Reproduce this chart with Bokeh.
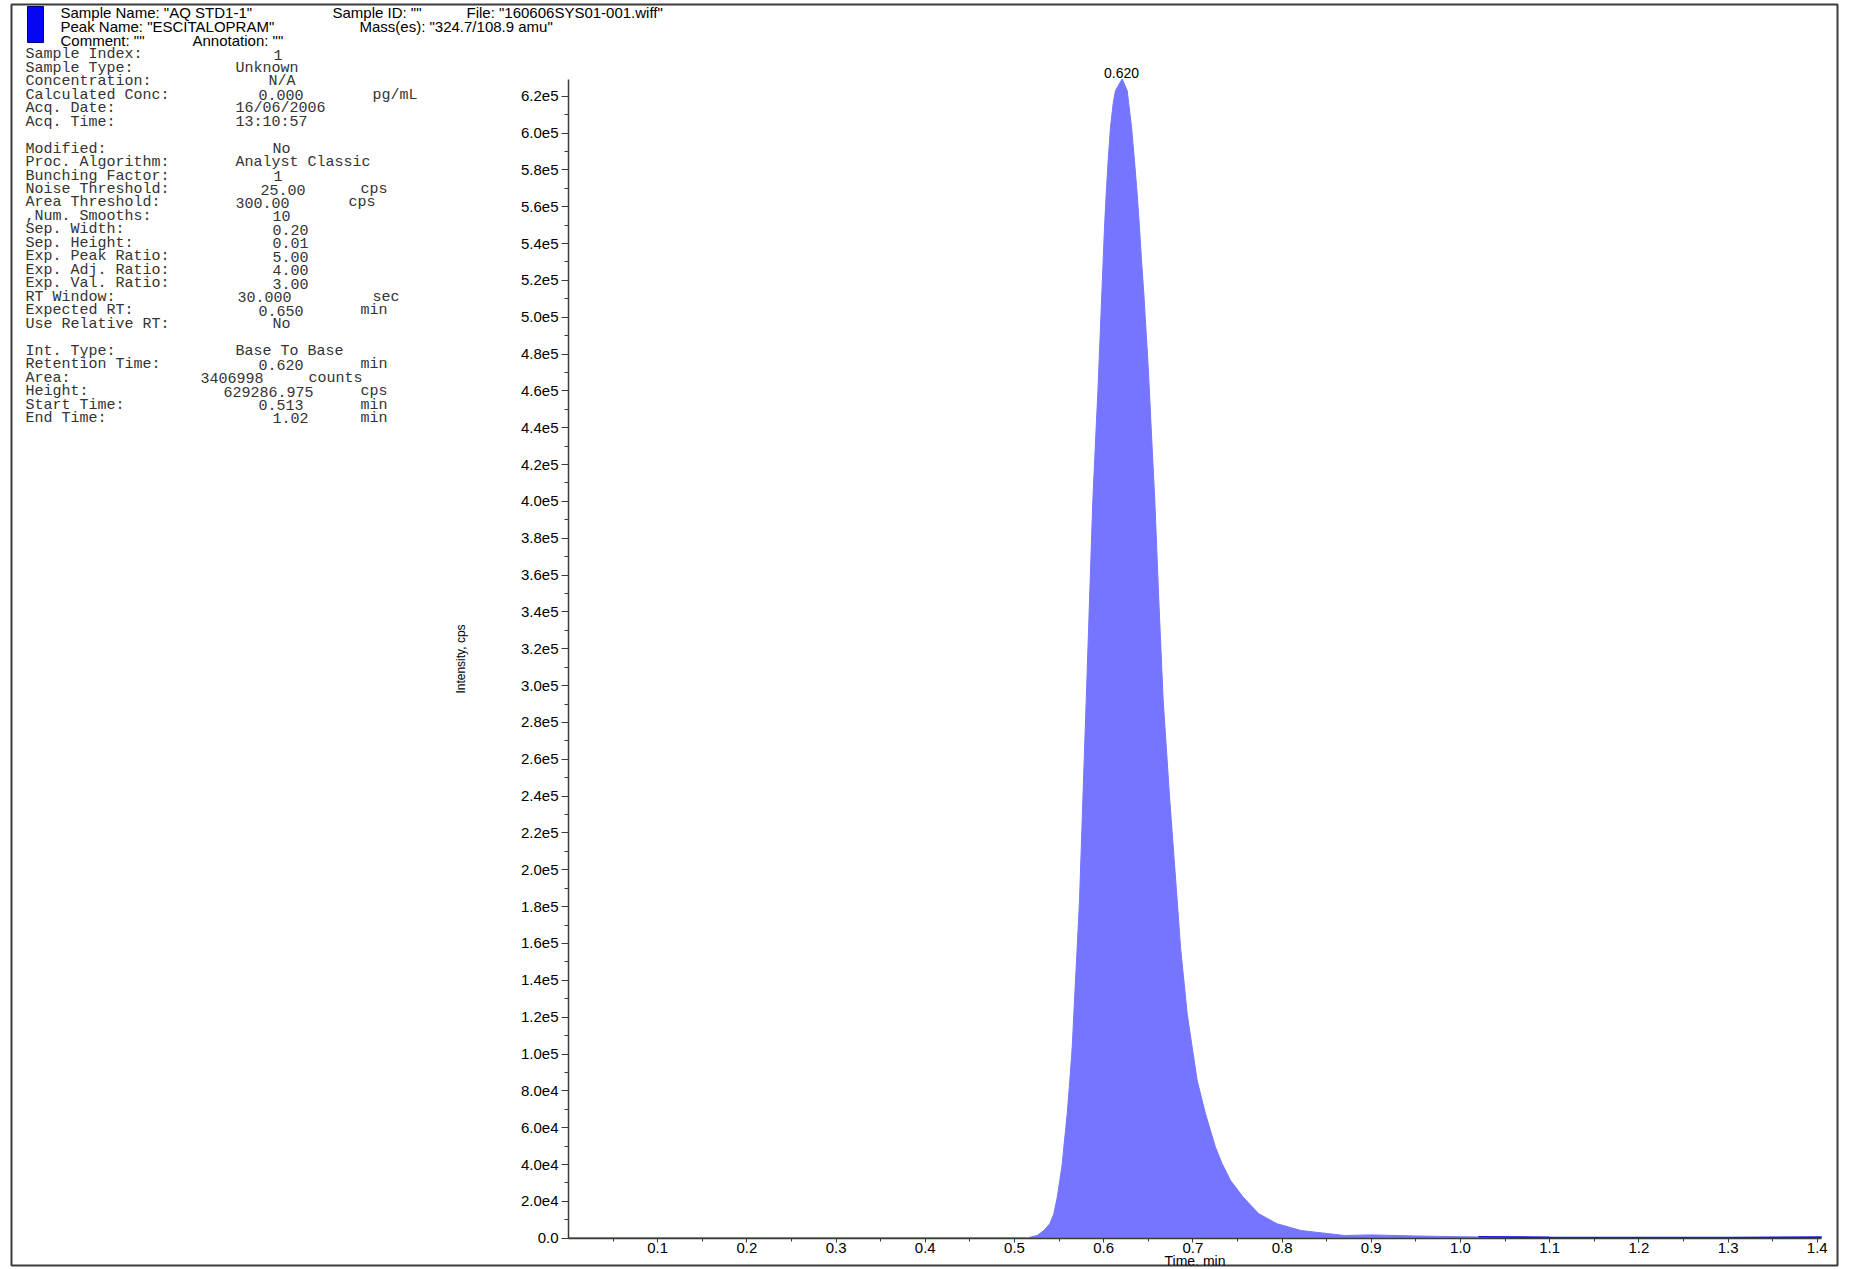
import numpy as np
from bokeh.plotting import figure
from bokeh.models import LinearAxis, FixedTicker, Range1d, ColumnDataSource
from bokeh.core.properties import value
from bokeh.embed import file_html
from bokeh.resources import INLINE

# ---------------- data ----------------
time_min = [0.0, 0.1, 0.2, 0.3, 0.4, 0.5, 0.513,
            0.5254, 0.5329, 0.5396, 0.5441, 0.5479, 0.5508, 0.5535, 0.5553, 0.5591, 0.5620,
            0.5647, 0.5665, 0.5703, 0.5729, 0.5766, 0.5804, 0.5841, 0.5878, 0.5919, 0.5934,
            0.5949, 0.5964, 0.5979, 0.5994, 0.6009, 0.6028, 0.6050, 0.6076, 0.6106, 0.6132,
            0.6207,
            0.6263, 0.6281, 0.6312, 0.6345, 0.6375, 0.6401, 0.6424, 0.6450, 0.6472, 0.6495,
            0.6514, 0.6528, 0.6573, 0.6618, 0.6667, 0.6741, 0.6824, 0.6861, 0.6936, 0.6992,
            0.7048, 0.7141, 0.7253, 0.7328, 0.7422, 0.7564, 0.7739, 0.7945, 0.8211, 0.8700,
            0.900, 0.950, 1.000, 1.020, 1.100, 1.200, 1.300, 1.405]
intensity_cps = [0, 0, 0, 0, 0, 0, 0,
                 1470, 4180, 7820, 13250, 22260, 31320, 40390, 49400, 67540, 85610,
                 103690, 121820, 157980, 183330, 237620, 291910, 346200, 400490, 443920, 458420,
                 476490, 494570, 512700, 530780, 548860, 566990, 585070, 603150, 615850, 623070,
                 629287,
                 623070, 615850, 603150, 585070, 566990, 548860, 530780, 512700, 494570, 476490,
                 458420, 443920, 400490, 346200, 291910, 237620, 183330, 157980, 121820, 103690,
                 85610, 67540, 49400, 40390, 31320, 22260, 13250, 7820, 4180, 1470,
                 1800, 1200, 800, 700, 500, 400, 400, 600]
assert len(time_min) == len(intensity_cps)

peak_rt = 0.620
peak_height = 629286.975
start_time = 0.513
end_time = 1.02
time_end = 1.405

x_tick_values = [0.1, 0.2, 0.3, 0.4, 0.5, 0.6, 0.7, 0.8, 0.9, 1.0, 1.1, 1.2, 1.3, 1.4]
x_tick_labels = ["0.1", "0.2", "0.3", "0.4", "0.5", "0.6", "0.7", "0.8", "0.9", "1.0",
                 "1.1", "1.2", "1.3", "1.4"]
x_minor_ticks = [0.05, 0.15, 0.25, 0.35, 0.45, 0.55, 0.65, 0.75, 0.85, 0.95, 1.05, 1.15,
                 1.25, 1.35]
y_tick_values = [0, 20000, 40000, 60000, 80000, 100000, 120000, 140000, 160000, 180000,
                 200000, 220000, 240000, 260000, 280000, 300000, 320000, 340000, 360000,
                 380000, 400000, 420000, 440000, 460000, 480000, 500000, 520000, 540000,
                 560000, 580000, 600000, 620000]
y_tick_labels = ["0.0", "2.0e4", "4.0e4", "6.0e4", "8.0e4", "1.0e5", "1.2e5", "1.4e5",
                 "1.6e5", "1.8e5", "2.0e5", "2.2e5", "2.4e5", "2.6e5", "2.8e5", "3.0e5",
                 "3.2e5", "3.4e5", "3.6e5", "3.8e5", "4.0e5", "4.2e5", "4.4e5", "4.6e5",
                 "4.8e5", "5.0e5", "5.2e5", "5.4e5", "5.6e5", "5.8e5", "6.0e5", "6.2e5"]
y_minor_ticks = [10000 + 20000 * i for i in range(31)]

header_texts = ['Sample Name: "AQ STD1-1"', 'Sample ID: ""', 'File: "160606SYS01-001.wiff"',
                'Peak Name: "ESCITALOPRAM"', 'Mass(es): "324.7/108.9 amu"',
                'Comment: ""', 'Annotation: ""']

info_labels = ["Sample Index:", "Sample Type:", "Concentration:", "Calculated Conc:",
               "Acq. Date:", "Acq. Time:", "", "Modified:", "Proc. Algorithm:",
               "Bunching Factor:", "Noise Threshold:", "Area Threshold:", ",Num. Smooths:",
               "Sep. Width:", "Sep. Height:", "Exp. Peak Ratio:", "Exp. Adj. Ratio:",
               "Exp. Val. Ratio:", "RT Window:", "Expected RT:", "Use Relative RT:", "",
               "Int. Type:", "Retention Time:", "Area:", "Height:", "Start Time:", "End Time:"]
info_values = ["1", "Unknown", "N/A", "0.000", "16/06/2006", "13:10:57", "", "No",
               "Analyst Classic", "1", "25.00", "300.00", "10", "0.20", "0.01", "5.00", "4.00",
               "3.00", "30.000", "0.650", "No", "", "Base To Base", "0.620", "3406998",
               "629286.975", "0.513", "1.02"]
info_units = ["", "", "", "pg/mL", "", "", "", "", "", "", "cps", "cps", "", "", "", "", "",
              "", "sec", "min", "", "", "", "min", "counts", "cps", "min", "min"]

# ---------------- layout (page pixels) ----------------
W, H = 1851, 1269
FL, FR, FT, FB = 11, 1837, 4, 1265
X0_PX, PX_PER_MIN = 568.0, 892.0
Y0_PX, PX_PER_CPS = 1237.7, 36.84 / 20000.0


def px2x(px):
    return (px - X0_PX) / PX_PER_MIN


def py2y(py):
    return (Y0_PX - py) / PX_PER_CPS


header_pos = [(60, 12), (332, 12), (466, 12), (60, 26), (359, 26), (60, 40), (192, 40)]
value_px = [273, 235, 268, 258, 235, 235, 0, 272, 235, 273, 260, 235, 272, 272, 272, 272,
            272, 272, 237, 258, 272, 0, 235, 258, 200, 223, 258, 272]
unit_px = [0, 0, 0, 372, 0, 0, 0, 0, 0, 0, 360, 348, 0, 0, 0, 0, 0, 0, 372, 360, 0, 0, 0,
           360, 308, 360, 360, 360]
INFO_X, INFO_Y0, INFO_DY = 25, 54.3, 13.47

FILL = "#7575FF"
TRACE = "#1414E6"
AXIS_C = "#3a3a3a"

p = figure(width=W, height=H, output_backend="svg", toolbar_location=None,
           x_axis_location=None, y_axis_location=None,
           x_range=Range1d(px2x(FL), px2x(FR)), y_range=Range1d(py2y(FB), py2y(FT)),
           min_border_left=FL, min_border_right=W - FR, min_border_top=FT,
           min_border_bottom=H - FB)
p.grid.visible = False
p.outline_line_color = "#3c3c3c"
p.outline_line_width = 2
p.background_fill_color = "white"
p.border_fill_color = "white"

t = np.array(time_min, dtype=float)
I = np.array(intensity_cps, dtype=float)
inside = (t >= start_time) & (t <= end_time)
before = t <= start_time
after = t >= end_time

p.varea(x=t[inside], y1=np.zeros(inside.sum()), y2=I[inside], fill_color=FILL)
p.line(t[inside], I[inside], line_color=FILL, line_width=1)
p.line(t[before], I[before], line_color=TRACE, line_width=1.6)
p.line(t[after], I[after], line_color=TRACE, line_width=1.6)

# peak annotation
p.text(x=[peak_rt], y=[peak_height], text=[f"{peak_rt:.3f}"], text_align="center",
       text_baseline="bottom", y_offset=-1, text_font=value("Liberation Sans"),
       text_font_size=value("14px"), text_color="black")

# axes
xaxis = LinearAxis(fixed_location=0, bounds=(0, time_end),
                   ticker=FixedTicker(ticks=x_tick_values, minor_ticks=x_minor_ticks),
                   major_label_overrides=dict(zip(x_tick_values, x_tick_labels)),
                   axis_label="Time, min")
yaxis = LinearAxis(fixed_location=0, bounds=(0, peak_height),
                   ticker=FixedTicker(ticks=y_tick_values, minor_ticks=y_minor_ticks),
                   major_label_overrides=dict(zip(y_tick_values, y_tick_labels)),
                   axis_label="Intensity, cps")
for ax in (xaxis, yaxis):
    ax.axis_line_color = AXIS_C
    ax.axis_line_width = 1.5
    ax.major_tick_line_color = AXIS_C
    ax.minor_tick_line_color = AXIS_C
    ax.major_tick_in = 0
    ax.minor_tick_in = 0
    ax.major_label_text_font = "Liberation Sans"
    ax.major_label_text_font_size = "15px"
    ax.major_label_text_color = "black"
    ax.axis_label_text_font = "Liberation Sans"
    ax.axis_label_text_font_style = "normal"
    ax.axis_label_text_color = "black"
xaxis.major_tick_out = 4
xaxis.minor_tick_out = 3
xaxis.major_label_standoff = 1
xaxis.axis_label_text_font_size = "14px"
xaxis.axis_label_standoff = -4
yaxis.major_tick_out = 7
yaxis.minor_tick_out = 4
yaxis.major_label_standoff = 3
yaxis.axis_label_text_font_size = "12px"
yaxis.axis_label_standoff = 50
p.add_layout(xaxis, "below")
p.add_layout(yaxis, "left")

# header swatch + header texts
p.quad(left=[px2x(27)], right=[px2x(43)], top=[py2y(6)], bottom=[py2y(42)],
       fill_color="#0606F2", line_color="#00007a", line_width=1)
hsrc = ColumnDataSource(dict(x=[px2x(a) for a, b in header_pos],
                             y=[py2y(b) for a, b in header_pos], text=header_texts))
p.text(x="x", y="y", text="text", source=hsrc, text_align="left", text_baseline="middle",
       text_font=value("Liberation Sans"), text_font_size=value("15px"), text_color="black")

# info block
xs, ys, txt = [], [], []
for i, (lab, val, unit) in enumerate(zip(info_labels, info_values, info_units)):
    yy = py2y(INFO_Y0 + INFO_DY * i)
    if lab:
        xs.append(px2x(INFO_X)); ys.append(yy); txt.append(lab)
    if val:
        xs.append(px2x(value_px[i])); ys.append(yy); txt.append(val)
    if unit:
        xs.append(px2x(unit_px[i])); ys.append(yy); txt.append(unit)
isrc = ColumnDataSource(dict(x=xs, y=ys, text=txt))
p.text(x="x", y="y", text="text", source=isrc, text_align="left", text_baseline="middle",
       text_font=value("Liberation Mono"), text_font_size=value("15px"), text_color="#333333")

open("out.html", "w").write(file_html(p, INLINE))
